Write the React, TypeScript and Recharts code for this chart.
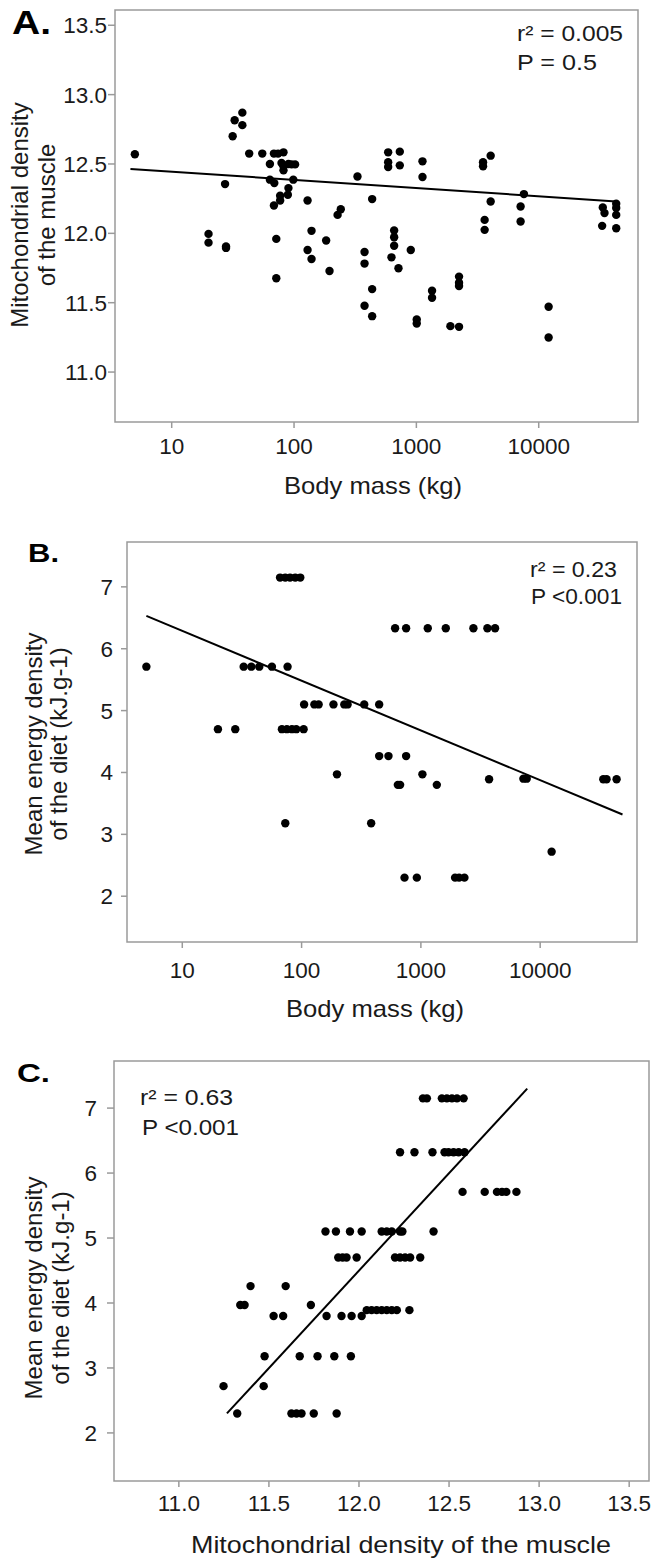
import { ScatterChart, Scatter, XAxis, YAxis, ReferenceArea } from "recharts";

const FONT = "'Liberation Sans', Arial, Helvetica, sans-serif";
const INK = "#1a1a1a";
const FRAME = "#9a9a9a";

// ---- panel A: body mass (kg) vs mitochondrial density of the muscle
const massA = [
  5, 31.5, 32.7, 37.8, 37.8, 43, 55, 68.5, 74, 82, 63.5, 79, 82, 90, 95.5, 102, 82, 63.5, 69, 98.6,
  27.3, 90, 77, 89, 77, 68.5, 129, 227, 241, 330, 435, 588, 732, 588, 588, 732, 1122, 1122, 3508,
  3508, 4048, 4048, 3614, 3614, 7568, 7112, 7112, 33400, 34500, 33000, 43000, 43000, 43000, 43000,
  20, 20, 27.8, 27.8, 71.6, 71.6, 139, 183, 129, 139, 195, 377, 377, 435, 377, 435, 658, 658, 658,
  626, 714, 900, 1007, 1007, 1343, 1343, 2232, 2232, 2232, 1897, 2232, 12050, 12050,
];
const mitoA = [
  12.57, 12.7, 12.815, 12.78, 12.87, 12.575, 12.575, 12.575, 12.575, 12.584, 12.5, 12.507, 12.483,
  12.5, 12.497, 12.497, 12.454, 12.387, 12.362, 12.387, 12.355, 12.326, 12.271, 12.278, 12.237,
  12.201, 12.237, 12.133, 12.174, 12.41, 12.247, 12.584, 12.589, 12.512, 12.478, 12.49, 12.519,
  12.406, 12.512, 12.483, 12.56, 12.23, 12.097, 12.025, 12.283, 12.194, 12.085, 12.187, 12.146,
  12.054, 12.213, 12.182, 12.133, 12.037, 11.996, 11.933, 11.905, 11.895, 11.96, 11.676, 12.018,
  11.948, 11.88, 11.815, 11.729, 11.866, 11.782, 11.598, 11.478, 11.403, 12.02, 11.972, 11.91,
  11.827, 11.748, 11.88, 11.379, 11.35, 11.586, 11.536, 11.688, 11.644, 11.62, 11.331, 11.326,
  11.471, 11.249,
];
const fitMassA = [4.6, 43000];
const fitMitoA = [12.464, 12.23];

// ---- panel B: body mass (kg) vs mean energy density of the diet
const massB = [
  5, 66, 73, 80, 88.5, 97.5, 32.7, 37.9, 44.2, 56.4, 76.3, 19.9, 27.8, 68.4, 75.3, 83, 90.2, 104,
  105, 128, 139, 185, 228, 243, 335, 447, 608, 752, 1142, 1617, 2756, 3610, 4186, 447, 535, 752,
  198, 1030, 641, 670, 1360, 3730, 7230, 7710, 33800, 36000, 43700, 73, 383, 12470, 729, 925, 1935,
  2090, 2317,
];
const dietB = [
  5.71, 7.15, 7.15, 7.15, 7.15, 7.15, 5.71, 5.71, 5.71, 5.71, 5.71, 4.7, 4.7, 4.7, 4.7, 4.7, 4.7, 4.7,
  5.1, 5.1, 5.1, 5.1, 5.1, 5.1, 5.1, 5.1, 6.33, 6.33, 6.33, 6.33, 6.33, 6.33, 6.33, 4.265, 4.265,
  4.265, 3.97, 3.97, 3.8, 3.8, 3.8, 3.89, 3.9, 3.9, 3.89, 3.89, 3.89, 3.18, 3.18, 2.72, 2.3, 2.3,
  2.3, 2.3, 2.3,
];
const fitMassB = [5, 49000];
const fitDietB = [6.53, 3.32];

// ---- panel C: mitochondrial density vs mean energy density of the diet
const mitoC = [
  12.355, 12.377, 12.46, 12.488, 12.516, 12.544, 12.581,
  12.228, 12.308, 12.408, 12.475, 12.497, 12.525, 12.553, 12.586,
  12.575, 12.698, 12.766, 12.794, 12.818, 12.874,
  11.814, 11.872, 11.95, 12.015, 12.126, 12.154, 12.182, 12.228, 12.241, 12.414,
  11.885, 11.909, 11.931, 11.987, 12.2, 12.228, 12.256, 12.284, 12.34,
  11.398, 11.593,
  11.341, 11.365, 11.733,
  11.526, 11.579, 11.82, 11.903, 11.959, 12.015,
  12.043, 12.07, 12.098, 12.126, 12.154, 12.182, 12.21, 12.28,
  11.476, 11.671, 11.77, 11.863, 11.955,
  11.248, 11.471,
  11.324, 11.625, 11.653, 11.681, 11.749, 11.876,
];
const dietC = [
  7.15, 7.15, 7.15, 7.15, 7.15, 7.15, 7.15,
  6.32, 6.32, 6.32, 6.32, 6.32, 6.32, 6.32, 6.32,
  5.71, 5.71, 5.71, 5.71, 5.71, 5.71,
  5.1, 5.1, 5.1, 5.1, 5.1, 5.1, 5.1, 5.1, 5.1, 5.1,
  4.7, 4.7, 4.7, 4.7, 4.7, 4.7, 4.7, 4.7, 4.7,
  4.26, 4.26,
  3.97, 3.97, 3.97,
  3.8, 3.8, 3.8, 3.8, 3.8, 3.8,
  3.89, 3.89, 3.89, 3.89, 3.89, 3.89, 3.89, 3.89,
  3.18, 3.18, 3.18, 3.18, 3.18,
  2.72, 2.72,
  2.3, 2.3, 2.3, 2.3, 2.3, 2.3,
];
const fitMitoC = [11.267, 12.934];
const fitDietC = [2.3, 7.3];

const massTicks = [10, 100, 1000, 10000];
const mitoTicks = [11.0, 11.5, 12.0, 12.5, 13.0, 13.5];
const dietTicks = [2, 3, 4, 5, 6, 7];
const massDomain = [3.44, 64800];
const mitoDomain = [10.64, 13.61];
const dietDomain = [1.26, 7.725];

const zip = (xs: number[], ys: number[]) => xs.map((x, i) => ({ x, y: ys[i] }));

const Dot = (p: any) => <circle cx={p.cx} cy={p.cy} r={4.2} fill="#000" />;
const NoDot = () => <g />;

const tickStyle = { fontSize: 22.5, fill: INK, fontFamily: FONT };

function Panel(props: any) {
  const {
    top, height, margin, yWidth, xLog, xDomain, xTicks, xFmt, xTickMargin,
    yDomain, yTicks, yFmt, yTickMargin, yTickSize, points, fit,
  } = props;
  return (
    <div style={{ position: "absolute", left: 0, top, width: 658, height }}>
      <ScatterChart width={658} height={height} margin={margin}>
        <XAxis
          type="number"
          dataKey="x"
          scale={xLog ? "log" : "linear"}
          domain={xDomain}
          ticks={xTicks}
          tickFormatter={xFmt}
          allowDataOverflow
          interval={0}
          axisLine={false}
          tickLine={{ stroke: FRAME, strokeWidth: 1.5 }}
          tickSize={6}
          tickMargin={xTickMargin}
          tick={tickStyle}
          height={30}
        />
        <YAxis
          type="number"
          dataKey="y"
          domain={yDomain}
          ticks={yTicks}
          tickFormatter={yFmt}
          allowDataOverflow
          interval={0}
          axisLine={false}
          tickLine={{ stroke: FRAME, strokeWidth: 1.5 }}
          tickSize={yTickSize}
          tickMargin={yTickMargin}
          tick={tickStyle}
          width={yWidth}
        />
        <ReferenceArea
          x1={xDomain[0]}
          x2={xDomain[1]}
          y1={yDomain[0]}
          y2={yDomain[1]}
          fill="none"
          stroke={FRAME}
          strokeWidth={1.5}
          ifOverflow="visible"
        />
        <Scatter
          data={fit}
          line={{ stroke: "#000", strokeWidth: 2 }}
          shape={NoDot}
          isAnimationActive={false}
        />
        <Scatter data={points} shape={Dot} isAnimationActive={false} />
      </ScatterChart>
    </div>
  );
}

type Note = { t: string; x: number; y: number; fs: number; len?: number; bold?: boolean };

const notes: Note[] = [
  { t: "A.", x: 12, y: 34, fs: 33, len: 39, bold: true },
  { t: "r² = 0.005", x: 517, y: 41, fs: 22, len: 106 },
  { t: "P = 0.5", x: 517, y: 70, fs: 22, len: 80 },
  { t: "B.", x: 28, y: 562, fs: 26, len: 31, bold: true },
  { t: "r² = 0.23", x: 530, y: 577, fs: 22, len: 87 },
  { t: "P <0.001", x: 531, y: 604, fs: 22, len: 91 },
  { t: "C.", x: 17, y: 1082, fs: 26, len: 33, bold: true },
  { t: "r² = 0.63", x: 140, y: 1105, fs: 22, len: 93 },
  { t: "P <0.001", x: 142, y: 1135, fs: 22, len: 97 },
];

const xTitles = [
  { t: "Body mass (kg)", cx: 373, y: 494, len: 178 },
  { t: "Body mass (kg)", cx: 375, y: 1017, len: 178 },
  { t: "Mitochondrial density of the muscle", cx: 401, y: 1553, len: 420 },
];

const yTitles = [
  { lines: ["Mitochondrial density", "of the muscle"], xs: [28, 55], cy: 215 },
  { lines: ["Mean energy density", "of the diet (kJ.g-1)"], xs: [42, 67], cy: 744 },
  { lines: ["Mean energy density", "of the diet (kJ.g-1)"], xs: [42, 69], cy: 1288 },
];

export default function App() {
  return (
    <div
      style={{
        position: "absolute",
        left: 0,
        top: 0,
        width: 658,
        height: 1567,
        background: "#fff",
        fontFamily: FONT,
      }}
    >
      <Panel
        top={0}
        height={470}
        margin={{ top: 10, right: 20, bottom: 18, left: 0 }}
        yWidth={115}
        xLog
        xDomain={massDomain}
        xTicks={massTicks}
        xFmt={(v: number) => String(v)}
        xTickMargin={10}
        yDomain={mitoDomain}
        yTicks={mitoTicks}
        yFmt={(v: number) => v.toFixed(1)}
        yTickSize={7}
        yTickMargin={1}
        points={zip(massA, mitoA)}
        fit={zip(fitMassA, fitMitoA)}
      />
      <Panel
        top={530}
        height={470}
        margin={{ top: 12, right: 21, bottom: 28, left: 0 }}
        yWidth={127}
        xLog
        xDomain={massDomain}
        xTicks={massTicks}
        xFmt={(v: number) => String(v)}
        xTickMargin={14}
        yDomain={dietDomain}
        yTicks={dietTicks}
        yFmt={(v: number) => String(v)}
        yTickSize={6}
        yTickMargin={8}
        points={zip(massB, dietB)}
        fit={zip(fitMassB, fitDietB)}
      />
      <Panel
        top={1050}
        height={470}
        margin={{ top: 11, right: 9, bottom: 9, left: 0 }}
        yWidth={114}
        xDomain={mitoDomain}
        xTicks={mitoTicks}
        xFmt={(v: number) => v.toFixed(1)}
        xTickMargin={8}
        yDomain={dietDomain}
        yTicks={dietTicks}
        yFmt={(v: number) => String(v)}
        yTickSize={7}
        yTickMargin={10}
        points={zip(mitoC, dietC)}
        fit={zip(fitMitoC, fitDietC)}
      />
      <svg
        width={658}
        height={1567}
        style={{ position: "absolute", left: 0, top: 0, pointerEvents: "none" }}
      >
        {notes.map((n, i) => (
          <text
            key={i}
            x={n.x}
            y={n.y}
            fontSize={n.fs}
            fontWeight={n.bold ? 700 : 400}
            fill={n.bold ? "#000" : INK}
            fontFamily={FONT}
            textLength={n.len}
            lengthAdjust="spacingAndGlyphs"
          >
            {n.t}
          </text>
        ))}
        {xTitles.map((t, i) => (
          <text
            key={i}
            x={t.cx - t.len / 2}
            y={t.y}
            fontSize={24}
            fill={INK}
            fontFamily={FONT}
            textLength={t.len}
            lengthAdjust="spacingAndGlyphs"
          >
            {t.t}
          </text>
        ))}
        {yTitles.map((t, i) =>
          t.lines.map((line, j) => (
            <text
              key={`${i}-${j}`}
              transform={`translate(${t.xs[j]},${t.cy}) rotate(-90)`}
              textAnchor="middle"
              fontSize={24}
              fill={INK}
              fontFamily={FONT}
            >
              {line}
            </text>
          ))
        )}
      </svg>
    </div>
  );
}
